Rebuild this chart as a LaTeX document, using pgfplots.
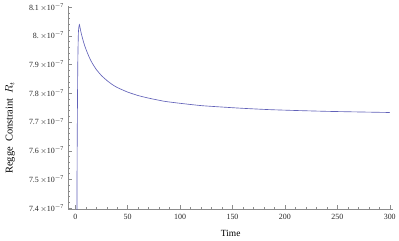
\documentclass[border=0pt]{standalone}
\usepackage{fontspec}
\setmainfont{Liberation Serif}
\usepackage{pgfplots}
\pgfplotsset{compat=1.18}
\definecolor{mline}{rgb}{0.38,0.38,0.72}
\definecolor{axgray}{gray}{0.55}
\newcommand{\sci}[1]{#1\,$\times$10\textsuperscript{$-$7}}
\begin{document}
\begin{tikzpicture}
\begin{axis}[
  scale only axis,
  width=327pt, height=205pt,
  xmin=-6.5, xmax=303,
  ymin=7.397, ymax=8.105,
  axis x line=bottom, axis y line=left,
  axis line style={axgray, -},
  every tick/.style={axgray, thin},
  tick align=inside,
  major tick length=4pt, minor tick length=2pt,
  xtick={0,50,100,150,200,250,300},
  xticklabels={0,50,100,150,200,250,300},
  minor xtick={10,20,30,40,60,70,80,90,110,120,130,140,160,170,180,190,210,220,230,240,260,270,280,290},
  ytick={7.4,7.5,7.6,7.7,7.8,7.9,8.0,8.1},
  yticklabels={\sci{7.4},\sci{7.5},\sci{7.6},\sci{7.7},\sci{7.8},\sci{7.9},\sci{8.},\sci{8.1}},
  minor ytick={7.42,7.44,7.46,7.48,7.52,7.54,7.56,7.58,7.62,7.64,7.66,7.68,7.72,7.74,7.76,7.78,7.82,7.84,7.86,7.88,7.92,7.94,7.96,7.98,8.02,8.04,8.06,8.08},
  tick label style={font=\fontsize{8}{9}\selectfont, text=black!85},
  xticklabel style={yshift=-2pt},
  yticklabel style={xshift=-1pt},
  xlabel={Time},
  ylabel={Regge\ \ Constraint\ \ $R_t$},
  xlabel style={font=\fontsize{9.5}{11}\selectfont, at={(axis description cs:0.5,-0.122)}, anchor=center},
  ylabel style={font=\fontsize{10.5}{12}\selectfont, at={(axis description cs:-0.18,0.40)}, anchor=center},
  clip=true,
]
\addplot[mline, line width=0.65pt, smooth, tension=0.35] coordinates {
(1.2,7.0) (1.8,7.6) (2.4,7.9) (3.0,8.012) (3.9,8.039) (5,8.020) (6,8.004)
(8,7.977) (10,7.955) (13,7.928) (16,7.906) (20,7.883) (25,7.8615) (30,7.845)
(35,7.831) (40,7.820) (50,7.804) (60,7.792) (70,7.783) (85,7.772) (100,7.765)
(120,7.757) (140,7.752) (160,7.7475) (185,7.743) (210,7.740) (240,7.737)
(270,7.7349) (300,7.733)
};
\end{axis}
\path[use as bounding box] ([xshift=-69pt,yshift=-32pt]current axis.south west) rectangle ([xshift=330pt,yshift=209pt]current axis.south west);
\end{tikzpicture}
\end{document}
